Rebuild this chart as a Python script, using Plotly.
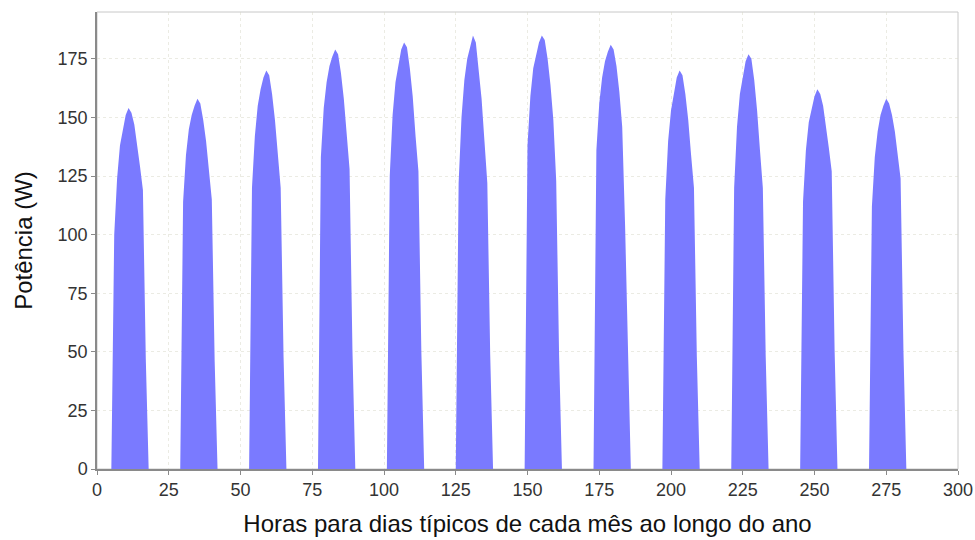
import plotly.graph_objects as go

# Hourly PV output (W) for a typical day of each month, hours 06..17.
# Hours outside this window produce nothing.
months = ["Jan", "Fev", "Mar", "Abr", "Mai", "Jun",
          "Jul", "Ago", "Set", "Out", "Nov", "Dez"]
sun_hours = [6, 7, 8, 9, 10, 11, 12, 13, 14, 15, 16, 17]

p_jan = [100, 124, 138, 145, 151, 154, 152, 147, 139, 129, 119, 47]
p_fev = [114, 134, 145, 151, 155, 158, 156, 149, 140, 127, 115, 46]
p_mar = [120, 142, 155, 162, 167, 170, 168, 160, 149, 134, 120, 48]
p_abr = [133, 154, 165, 172, 176, 179, 177, 169, 158, 142, 128, 51]
p_mai = [125, 151, 165, 173, 179, 182, 180, 171, 159, 142, 127, 51]
p_jun = [122, 150, 166, 175, 180, 185, 182, 171, 158, 140, 122, 49]
p_jul = [138, 159, 171, 177, 182, 185, 183, 175, 164, 149, 123, 49]
p_ago = [136, 156, 167, 174, 178, 181, 179, 172, 161, 146, 104, 45]
p_set = [115, 140, 153, 161, 167, 170, 168, 160, 149, 134, 120, 48]
p_out = [120, 146, 160, 168, 174, 177, 175, 166, 153, 136, 120, 48]
p_nov = [114, 136, 148, 154, 159, 162, 160, 155, 147, 137, 127, 51]
p_dez = [112, 133, 144, 151, 155, 158, 156, 151, 144, 134, 124, 50]

monthly_profiles = [p_jan, p_fev, p_mar, p_abr, p_mai, p_jun,
                    p_jul, p_ago, p_set, p_out, p_nov, p_dez]

x_ticks = [0, 25, 50, 75, 100, 125, 150, 175, 200, 225, 250, 275, 300]
y_ticks = [0, 25, 50, 75, 100, 125, 150, 175]

# Build the continuous 12 x 24 h series (zero at night)
hours = []
power = []
for d, profile in enumerate(monthly_profiles):
    day = dict(zip(sun_hours, profile))
    for h in range(24):
        hours.append(24 * d + h)
        power.append(day.get(h, 0))

fill_color = "#7a7aff"

fig = go.Figure()
fig.add_trace(go.Scatter(
    x=hours, y=power, mode="lines", fill="tozeroy",
    line=dict(width=0, color=fill_color), fillcolor=fill_color,
    hoverinfo="x+y", showlegend=False,
))

grid = "rgba(215,215,200,0.5)"
fig.update_layout(
    width=975, height=540,
    margin=dict(l=97, r=17, t=12, b=71, autoexpand=False),
    paper_bgcolor="white", plot_bgcolor="white",
    font=dict(family="Liberation Sans, Arial, sans-serif", size=18, color="#333333"),
    xaxis=dict(
        range=[0, 300], tickvals=x_ticks, ticktext=[str(v) for v in x_ticks],
        showgrid=True, gridcolor=grid, griddash="dot", gridwidth=1,
        showline=True, linecolor="#8a8a8a", linewidth=1.5,
        ticks="outside", ticklen=4, tickcolor="#8a8a8a",
        zeroline=False, automargin=False,
        title=dict(text="Horas para dias típicos de cada mês ao longo do ano",
                   font=dict(size=24, color="#111111"), standoff=16),
    ),
    yaxis=dict(
        range=[0, 195], tickvals=y_ticks, ticktext=[str(v) for v in y_ticks],
        showgrid=True, gridcolor=grid, griddash="dot", gridwidth=1,
        showline=True, linecolor="#8a8a8a", linewidth=1.5,
        ticks="outside", ticklen=4, tickcolor="#8a8a8a",
        zeroline=False, automargin=False,
        title=dict(text="Potência (W)", font=dict(size=24, color="#111111"), standoff=18),
    ),
    shapes=[dict(type="rect", xref="paper", yref="paper", x0=0, y0=0, x1=1, y1=1,
                 line=dict(color="#c8c8c8", width=1), layer="below")],
)

fig.write_html("out.html")
